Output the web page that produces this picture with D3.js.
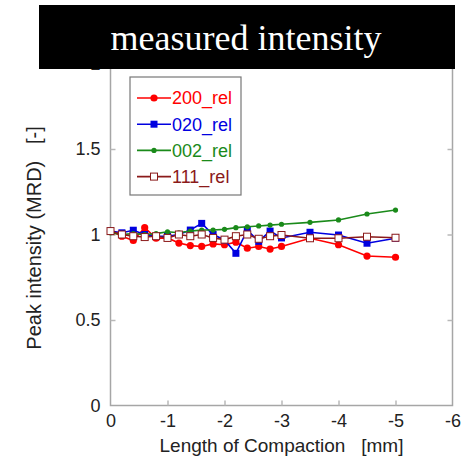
<!DOCTYPE html>
<html><head><meta charset="utf-8">
<script src="https://cdn.jsdelivr.net/npm/d3@7/dist/d3.min.js"></script>
<style>body{margin:0;background:#fff}svg{display:block}</style>
</head><body>
<svg id="c" width="473" height="467"></svg>
<script>
const title = "measured intensity";
const xLabel = "Length of Compaction   [mm]";
const yLabel = "Peak intensity (MRD)   [-]";
const xTicks = [0, -1, -2, -3, -4, -5, -6];
const xTickLabels = ["0", "-1", "-2", "-3", "-4", "-5", "-6"];
const yTicks = [0, 0.5, 1, 1.5, 2];
const yTickLabels = ["0", "0.5", "1", "1.5", "2"];
const seriesNames = ["200_rel", "020_rel", "002_rel", "111_rel"];
const seriesColors = ["#ff0000", "#0000e0", "#1a8a1a", "#8b1a1a"];
const positions = [0, -0.2, -0.4, -0.6, -0.8, -1.0, -1.2, -1.4, -1.6, -1.8, -2.0, -2.2, -2.4, -2.6, -2.8, -3.0, -3.5, -4.0, -4.5, -5.0];
const rel200 = [1.02, 0.99, 0.965, 1.04, 0.978, 0.98, 0.95, 0.935, 0.93, 0.945, 0.94, 0.955, 0.92, 0.93, 0.915, 0.93, 0.978, 0.94, 0.874, 0.867];
const rel020 = [1.02, 1.01, 1.025, 1.0, 0.99, 0.99, 1.0, 1.026, 1.065, 1.0, 0.968, 0.89, 1.026, 0.96, 1.02, 0.98, 1.013, 0.997, 0.949, 0.978];
const rel002 = [1.01, 1.0, 1.005, 1.0, 1.005, 1.016, 1.01, 1.02, 1.026, 1.026, 1.03, 1.04, 1.045, 1.05, 1.055, 1.06, 1.071, 1.085, 1.12, 1.143];
const rel111 = [1.02, 1.0, 0.99, 0.985, 0.99, 0.98, 1.0, 0.99, 1.0, 0.98, 0.97, 0.99, 1.0, 0.975, 0.99, 0.997, 0.978, 0.978, 0.987, 0.981];
const seriesValues = [rel200, rel020, rel002, rel111];
const markers = ["circle", "square", "dot", "open"];

const svg = d3.select("#c");
const m = {l:110.5, r:452.5, t:63.5, b:405.5};
const x = d3.scaleLinear().domain([0, -6]).range([m.l, m.r]);
const y = d3.scaleLinear().domain([0, 2]).range([m.b, m.t]);
const axisCol = "#a6a6a6";
const font = "'Liberation Sans', Arial, sans-serif";

// frame
svg.append("rect").attr("x", m.l).attr("y", m.t).attr("width", m.r - m.l).attr("height", m.b - m.t)
  .attr("fill", "none").attr("stroke", axisCol).attr("stroke-width", 1.5);

// axes (inward ticks)
const xa = svg.append("g").attr("transform", `translate(0,${m.b})`)
  .call(d3.axisBottom(x).tickValues(xTicks).tickSize(-5).tickPadding(10).tickFormat((d, i) => xTickLabels[i]));
const ya = svg.append("g").attr("transform", `translate(${m.l},0)`)
  .call(d3.axisLeft(y).tickValues(yTicks).tickSize(-5).tickPadding(10).tickFormat((d, i) => yTickLabels[i]));
const yr = svg.append("g").attr("transform", `translate(${m.r},0)`)
  .call(d3.axisRight(y).tickValues(yTicks).tickSize(-5).tickFormat(""));
[xa, ya, yr].forEach(g => {
  g.select(".domain").remove();
  g.selectAll(".tick line").attr("stroke", "#b8b8b8").attr("stroke-width", 1.5);
  g.selectAll("text").attr("fill", "#222").style("font-family", font).style("font-size", "18px");
});
xa.selectAll(".tick").filter(d => d === 0 || d === -6).select("line").remove();
ya.selectAll(".tick").filter(d => d === 0 || d === 2).select("line").remove();
yr.selectAll(".tick").filter(d => d === 0 || d === 2).select("line").remove();
xa.selectAll("text").attr("y", 9).attr("dy", "0.71em");

// axis titles
svg.append("text").attr("x", (m.l + m.r) / 2).attr("y", 452)
  .attr("text-anchor", "middle").attr("fill", "#222")
  .style("font-family", font).style("font-size", "19px")
  .style("white-space", "pre").text(xLabel);
svg.append("text").attr("transform", `translate(41,238) rotate(-90)`)
  .attr("text-anchor", "middle").attr("fill", "#222")
  .style("font-family", font).style("font-size", "20px")
  .style("white-space", "pre").text(yLabel);

// series
const line = d3.line().x(d => x(d[0])).y(d => y(d[1]));
function drawMarker(g, kind, col, cx, cy) {
  if (kind === "circle") g.append("circle").attr("cx", cx).attr("cy", cy).attr("r", 3.6).attr("fill", col);
  else if (kind === "square") g.append("rect").attr("x", cx - 3.5).attr("y", cy - 3.5).attr("width", 7).attr("height", 7).attr("fill", col);
  else if (kind === "dot") g.append("circle").attr("cx", cx).attr("cy", cy).attr("r", 2.6).attr("fill", col);
  else g.append("rect").attr("x", cx - 3.5).attr("y", cy - 3.5).attr("width", 7).attr("height", 7).attr("fill", "#fff").attr("stroke", col).attr("stroke-width", 1);
}
seriesValues.forEach((vals, i) => {
  const data = positions.map((p, j) => [p, vals[j]]);
  const g = svg.append("g");
  g.append("path").datum(data).attr("d", line).attr("fill", "none")
    .attr("stroke", seriesColors[i]).attr("stroke-width", 1.6);
  data.forEach(d => drawMarker(g, markers[i], seriesColors[i], x(d[0]), y(d[1])));
});

// legend
const lg = svg.append("g");
lg.append("rect").attr("x", 130).attr("y", 77).attr("width", 111).attr("height", 118)
  .attr("fill", "#fff").attr("stroke", "#777").attr("stroke-width", 1.2);
seriesNames.forEach((n, i) => {
  const yy = 98 + i * 26.2;
  lg.append("line").attr("x1", 137).attr("x2", 171).attr("y1", yy).attr("y2", yy)
    .attr("stroke", seriesColors[i]).attr("stroke-width", 1.6);
  drawMarker(lg, markers[i], seriesColors[i], 154, yy);
  lg.append("text").attr("x", 172).attr("y", yy).attr("dy", "0.36em")
    .attr("fill", seriesColors[i])
    .style("font-family", font).style("font-size", "18px").text(n);
});

// title box
svg.append("rect").attr("x", 39).attr("y", 5).attr("width", 416).attr("height", 64).attr("fill", "#000");
svg.append("text").attr("x", 246).attr("y", 50).attr("text-anchor", "middle").attr("fill", "#fff")
  .style("font-family", "'Liberation Serif', 'Times New Roman', serif").style("font-size", "36px").text(title);
</script>
</body></html>
